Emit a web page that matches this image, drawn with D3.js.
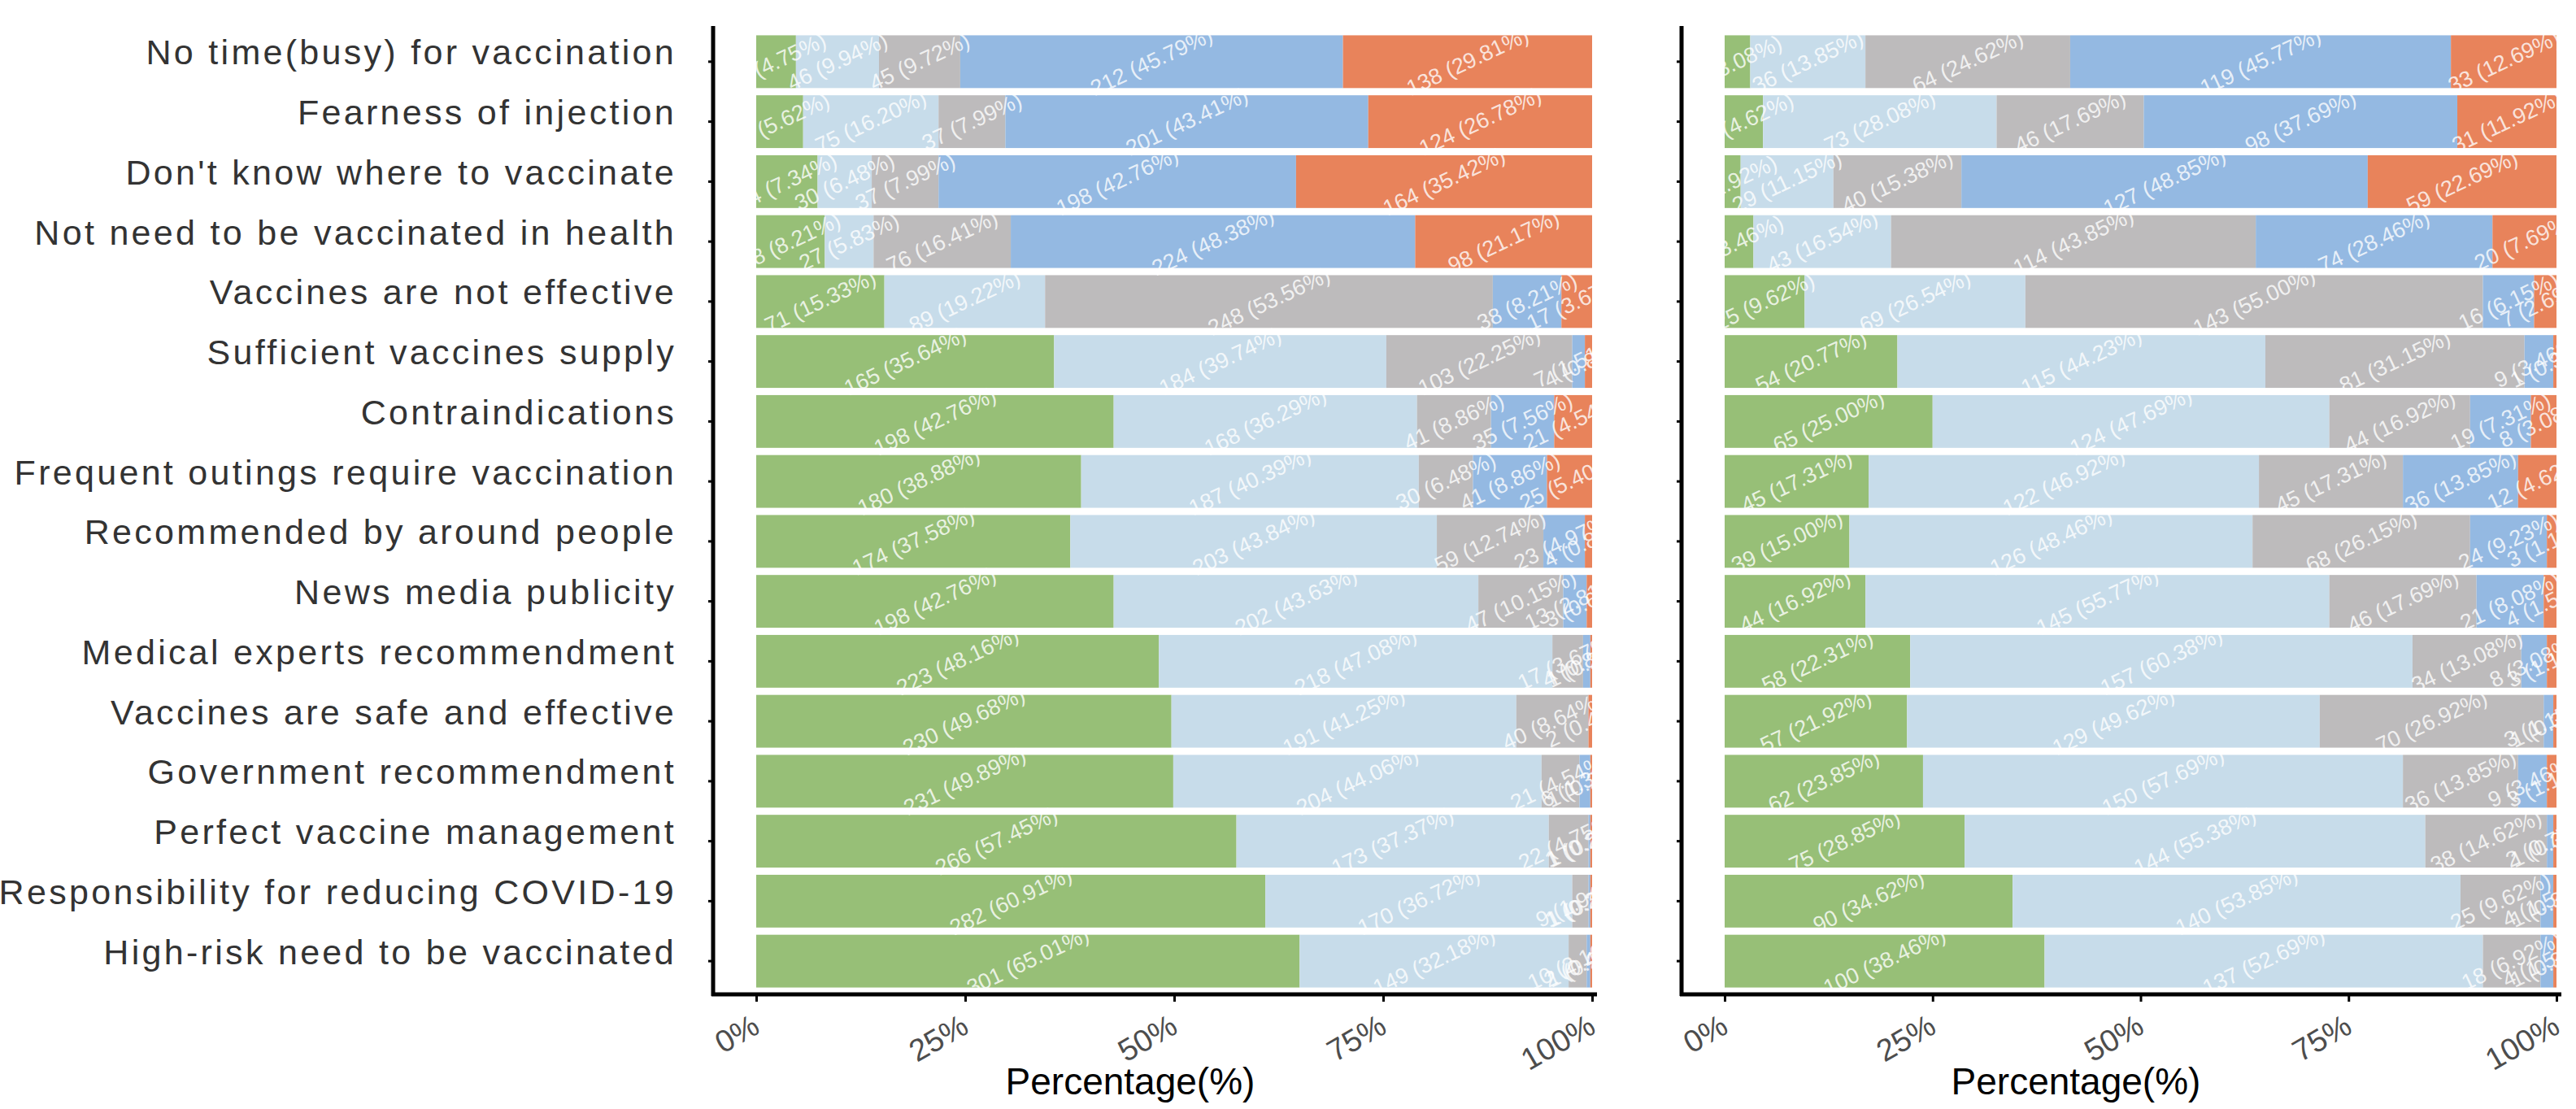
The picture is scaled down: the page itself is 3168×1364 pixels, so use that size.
<!doctype html>
<html>
<head>
<meta charset="utf-8">
<style>
  body { margin: 0; background: #fff; }
  svg text { font-family: "Liberation Sans", Arial, sans-serif; }
  .ylab { fill: #333; font-size: 43px; letter-spacing: 3.3px; }
  .xlab { fill: #4d4d4d; font-size: 38px; }
  .seg-label { fill: #fff; fill-opacity: 0.8; font-size: 27px; }
  .xtitle { fill: #000; font-size: 46px; }
</style>
<script src="https://d3js.org/d3.v7.min.js"></script>
</head>
<body>
<script>

// categories, top to bottom
var categories = [
  "No time(busy) for vaccination",
  "Fearness of injection",
  "Don't know where to vaccinate",
  "Not need to be vaccinated in health",
  "Vaccines are not effective",
  "Sufficient vaccines supply",
  "Contraindications",
  "Frequent outings require vaccination",
  "Recommended by around people",
  "News media publicity",
  "Medical experts recommendment",
  "Vaccines are safe and effective",
  "Government recommendment",
  "Perfect vaccine management",
  "Responsibility for reducing COVID-19",
  "High-risk need to be vaccinated"
];

var levels = ["Strongly agree", "Agree", "Neutral", "Disagree", "Strongly disagree"];
var levelColors = ["#97bf77", "#c7dcea", "#bdbbbc", "#94b9e2", "#e8835b"];

// left panel (n = 463)
var leftStronglyAgree = [22, 26, 34, 38, 71, 165, 198, 180, 174, 198, 223, 230, 231, 266, 282, 301];
var leftAgree         = [46, 75, 30, 27, 89, 184, 168, 187, 203, 202, 218, 191, 204, 173, 170, 149];
var leftNeutral       = [45, 37, 37, 76, 248, 103, 41, 30, 59, 47, 17, 40, 21, 22, 9, 10];
var leftDisagree      = [212, 201, 198, 224, 38, 7, 35, 41, 23, 13, 4, 0, 6, 1, 1, 2];
var leftStronglyDis   = [138, 124, 164, 98, 17, 4, 21, 25, 4, 3, 1, 2, 1, 1, 1, 1];

// right panel (n = 260)
var rightStronglyAgree = [8, 12, 5, 9, 25, 54, 65, 45, 39, 44, 58, 57, 62, 75, 90, 100];
var rightAgree         = [36, 73, 29, 43, 69, 115, 124, 122, 126, 145, 157, 129, 150, 144, 140, 137];
var rightNeutral       = [64, 46, 40, 114, 143, 81, 44, 45, 68, 46, 34, 70, 36, 38, 25, 18];
var rightDisagree      = [119, 98, 127, 74, 16, 9, 19, 36, 24, 21, 8, 3, 9, 2, 4, 4];
var rightStronglyDis   = [33, 31, 59, 20, 7, 1, 8, 12, 3, 4, 3, 1, 3, 1, 1, 1];

var xTicks = [0, 0.25, 0.5, 0.75, 1];

var W = 3168, H = 1364;
var svg = d3.select("body").append("svg")
    .attr("width", W)
    .attr("height", H);

var y = d3.scaleBand()
    .domain(categories)
    .range([39, 1219])
    .paddingInner(0.12)
    .paddingOuter(0.06);

var axisY = 1223;

function drawPanel(series, opts) {
    var rows = categories.map(function (c, i) {
        var r = { cat: c };
        levels.forEach(function (l, j) { r[l] = series[j][i]; });
        r.total = d3.sum(series, function (s) { return s[i]; });
        return r;
    });
    var pct = rows.map(function (r) {
        var o = { cat: r.cat, total: r.total };
        levels.forEach(function (l) { o[l] = r[l] / r.total; o["n_" + l] = r[l]; });
        return o;
    });

    var x = d3.scaleLinear().domain([0, 1]).range(opts.range);
    var stacked = d3.stack().keys(levels)(pct);

    var g = svg.append("g");

    var layer = g.selectAll("g.layer")
        .data(stacked)
        .enter().append("g")
        .attr("class", "layer")
        .attr("fill", function (d, i) { return levelColors[i]; });

    layer.selectAll("rect")
        .data(function (d) { return d; })
        .enter().append("rect")
        .attr("x", function (d) { return x(d[0]); })
        .attr("y", function (d) { return y(d.data.cat); })
        .attr("width", function (d) { return Math.max(0, x(d[1]) - x(d[0])); })
        .attr("height", y.bandwidth());

    // labels, "n (p%)"
    stacked.forEach(function (s) {
        g.append("g").selectAll("text")
            .data(s.filter(function (d) { return d.data["n_" + s.key] > 0; }))
            .enter().append("text")
            .attr("class", "seg-label")
            .attr("text-anchor", "middle")
            .attr("dominant-baseline", "central")
            .attr("transform", function (d) {
                var cx = x((d[0] + d[1]) / 2), cy = y(d.data.cat) + y.bandwidth() / 2;
                return "translate(" + cx + "," + cy + ") rotate(-25)";
            })
            .text(function (d) {
                var n = d.data["n_" + s.key];
                return n + " (" + (n / d.data.total * 100).toFixed(2) + "%)";
            });
    });

    // x axis
    var xAxis = d3.axisBottom(x)
        .tickValues(xTicks)
        .tickFormat(d3.format(".0%"))
        .tickSizeOuter(0)
        .tickSize(9);

    var gx = g.append("g")
        .attr("transform", "translate(0," + axisY + ")")
        .attr("font-size", null).attr("font-family", null)
        .call(xAxis);
    gx.attr("font-size", null).attr("font-family", null);
    gx.select(".domain").remove();
    gx.selectAll(".tick line").attr("stroke", "#000").attr("stroke-width", 3);
    gx.selectAll(".tick text")
        .attr("class", "xlab")
        .attr("x", 0).attr("y", 0).attr("dy", 0)
        .attr("transform", "translate(6,46) rotate(-30)")
        .style("text-anchor", "end");

    // y axis
    var yAxis = d3.axisLeft(y).tickSize(6).tickPadding(opts.axisX - opts.labelRight);
    var gy = g.append("g")
        .attr("transform", "translate(" + opts.axisX + ",0)")
        .call(yAxis);
    gy.attr("font-size", null).attr("font-family", null);
    gy.select(".domain").remove();
    gy.selectAll(".tick line").attr("stroke", "#000").attr("stroke-width", 3);
    if (opts.showLabels) {
        gy.selectAll(".tick text")
            .attr("class", "ylab")
            .attr("dy", "0.08em");
    } else {
        gy.selectAll(".tick text").remove();
    }

    // axis lines
    g.append("line")
        .attr("x1", opts.axisX).attr("x2", opts.axisX)
        .attr("y1", 32).attr("y2", axisY + 2)
        .attr("stroke", "#000").attr("stroke-width", 5);
    g.append("line")
        .attr("x1", opts.axisX - 2).attr("x2", opts.range[1] + 6)
        .attr("y1", axisY).attr("y2", axisY)
        .attr("stroke", "#000").attr("stroke-width", 5);

    g.append("text")
        .attr("class", "xtitle")
        .attr("x", opts.titleX)
        .attr("y", 1346)
        .attr("text-anchor", "middle")
        .text("Percentage(%)");
}

drawPanel([leftStronglyAgree, leftAgree, leftNeutral, leftDisagree, leftStronglyDis],
    { range: [930, 1958], axisX: 877, labelRight: 838, showLabels: true, titleX: 1390 });

drawPanel([rightStronglyAgree, rightAgree, rightNeutral, rightDisagree, rightStronglyDis],
    { range: [2121, 3144], axisX: 2068, labelRight: 2068, showLabels: false, titleX: 2553 });

</script>
</body>
</html>
